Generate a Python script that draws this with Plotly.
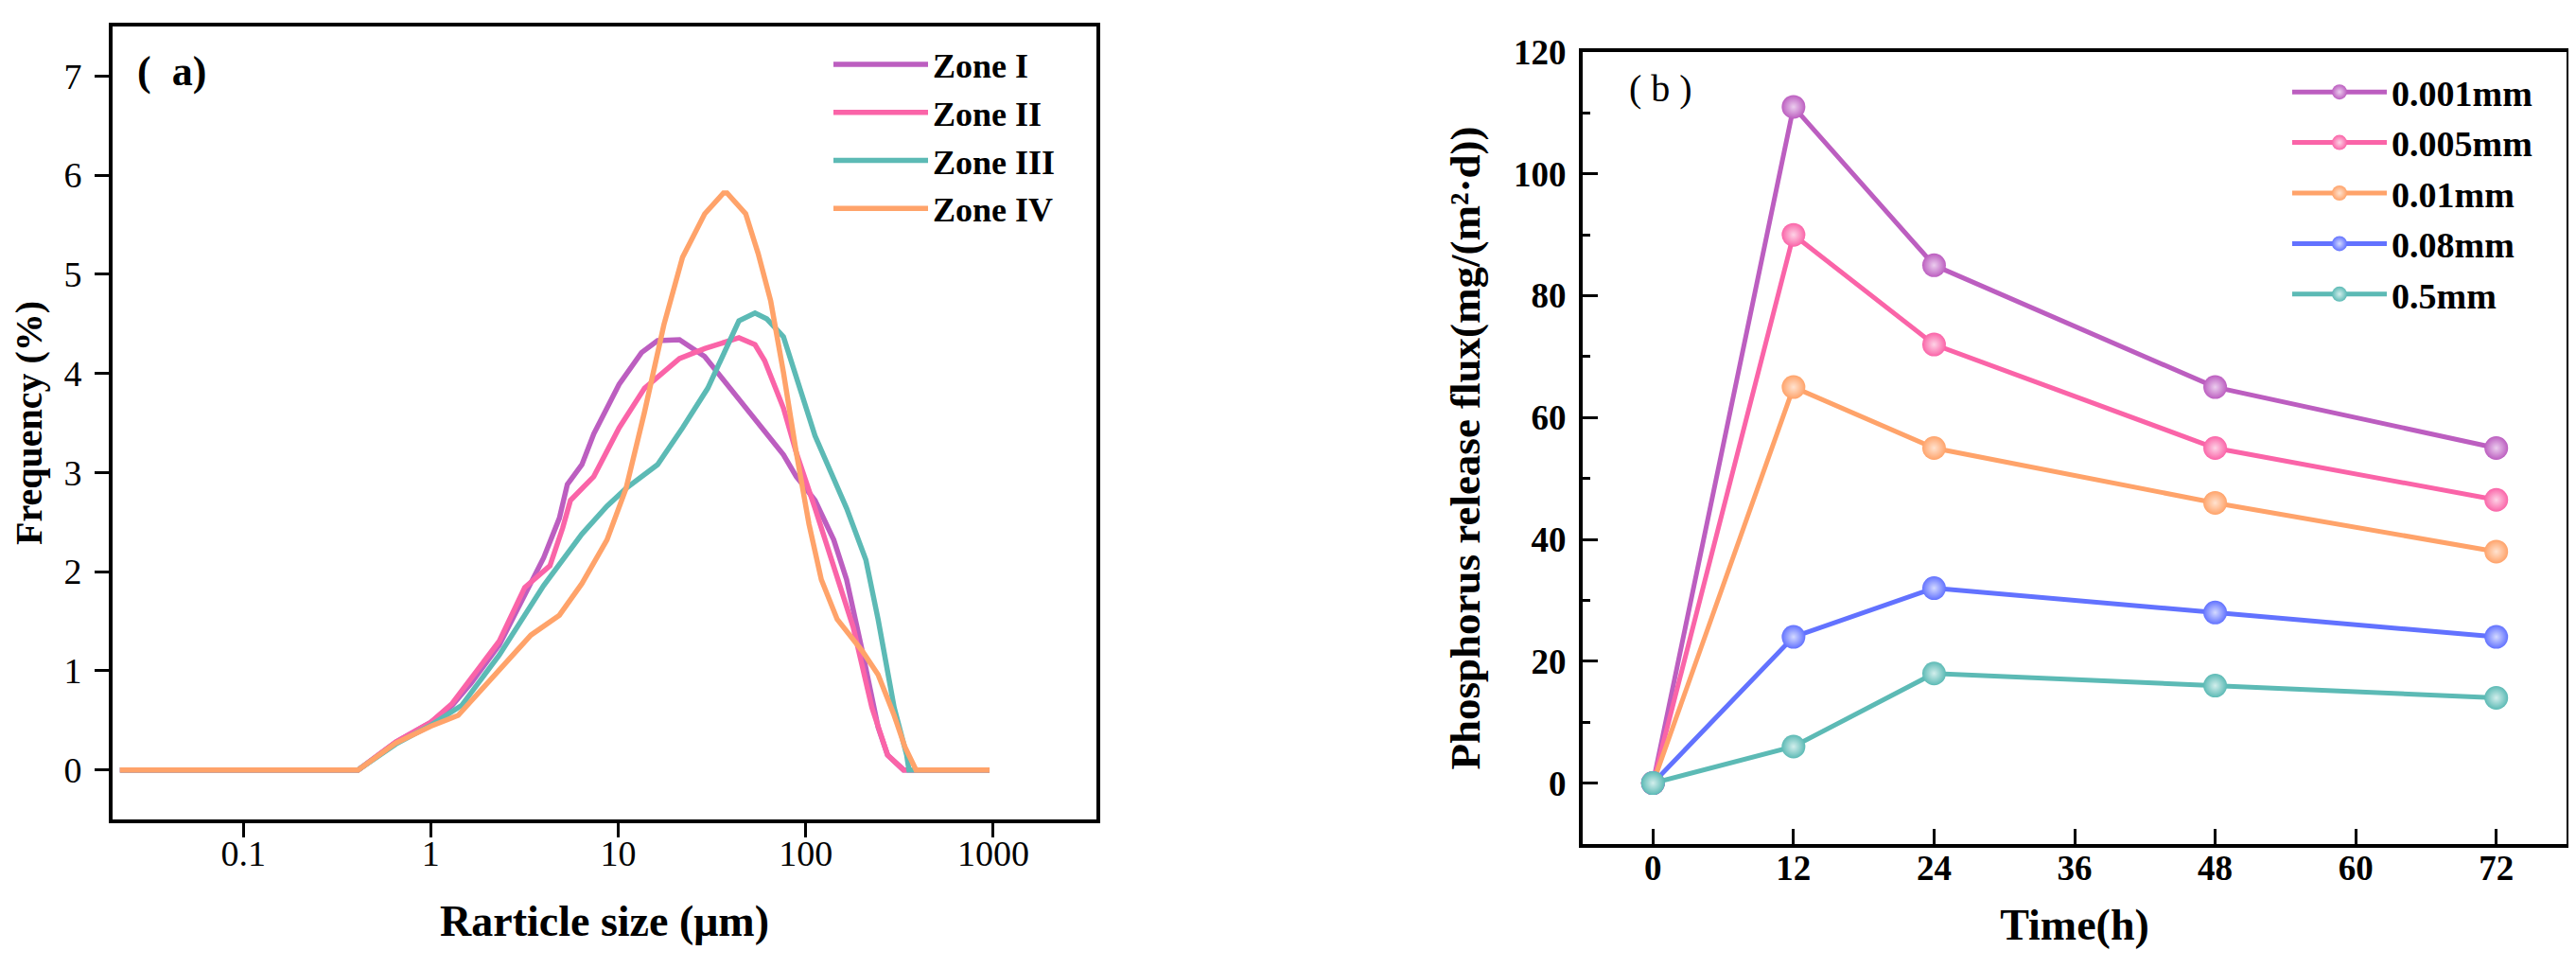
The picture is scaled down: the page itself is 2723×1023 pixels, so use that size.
import plotly.graph_objects as go

# ---- (a) particle size distribution, per zone ---------------------------
zone1_size = [0.022, 0.41, 0.65, 1.0, 1.3, 1.64, 2.32, 3.42, 4.0, 4.85, 5.35, 6.4, 7.4, 10.1,
              13.3, 16.2, 21.2, 28.9, 42.5, 76, 89, 112, 141, 165, 200, 243, 273, 332, 955]
zone1_freq = [0, 0, 0.28, 0.48, 0.65, 0.875, 1.26, 1.88, 2.14, 2.54, 2.88, 3.08, 3.39, 3.89,
              4.21, 4.33, 4.34, 4.17, 3.77, 3.18, 2.96, 2.72, 2.32, 1.92, 1.2, 0.43, 0.15, 0, 0]

zone2_size = [0.022, 0.41, 0.65, 1.0, 1.3, 2.32, 3.17, 4.32, 5.05, 5.56, 7.4, 10.1, 13.8, 21.2,
              28.9, 44, 53.6, 60.3, 76, 89, 112, 141, 179, 225, 273, 332, 955]
zone2_freq = [0, 0, 0.28, 0.48, 0.67, 1.3, 1.84, 2.06, 2.44, 2.72, 2.96, 3.45, 3.85, 4.15,
              4.25, 4.36, 4.29, 4.13, 3.65, 3.2, 2.64, 2.04, 1.44, 0.63, 0.15, 0, 0]

zone3_size = [0.022, 0.41, 0.65, 1.0, 1.46, 2.32, 4.0, 5.05, 6.4, 8.7, 11, 16.2, 22, 30, 44,
              53.6, 62, 76, 112, 165, 209, 243, 296, 345, 355, 955]
zone3_freq = [0, 0, 0.26, 0.45, 0.65, 1.16, 1.86, 2.12, 2.38, 2.66, 2.84, 3.08, 3.45, 3.85, 4.53,
              4.61, 4.55, 4.37, 3.37, 2.64, 2.12, 1.52, 0.63, 0.15, 0, 0]

zone4_size = [0.022, 0.41, 0.65, 1.0, 1.4, 2.32, 3.42, 4.85, 6.4, 8.7, 11, 13.8, 17.5, 22, 28.9,
              36.4, 38, 47.8, 55.7, 65, 76, 89, 104, 121, 147, 200, 243, 296, 338, 387, 955]
zone4_freq = [0, 0, 0.27, 0.44, 0.55, 1.0, 1.36, 1.56, 1.88, 2.32, 2.84, 3.61, 4.49, 5.17, 5.61,
              5.82, 5.82, 5.61, 5.21, 4.73, 4.01, 3.2, 2.48, 1.92, 1.52, 1.2, 0.96, 0.55, 0.23, 0, 0]

zone_names = ["Zone I", "Zone II", "Zone III", "Zone IV"]
zone_colors = ["#BC5EC0", "#FA64A8", "#5CBAB5", "#FFA36A"]

# ---- (b) phosphorus release flux -----------------------------------------
time_h = [0, 12, 24, 48, 72]
flux_0001 = [0, 111, 85, 65, 55]
flux_0005 = [0, 90, 72, 55, 46.5]
flux_001 = [0, 65, 55, 46, 38]
flux_008 = [0, 24, 32, 28, 24]
flux_05 = [0, 6, 18, 16, 14]
size_names = ["0.001mm", "0.005mm", "0.01mm", "0.08mm", "0.5mm"]
size_colors = ["#BC5EC0", "#FA64A8", "#FFA36A", "#6272FF", "#5CBAB5"]
size_tints = ["#EBCDEE", "#FDD3E6", "#FFE2CF", "#D3D9FF", "#D2EEEC"]

FONT = "Liberation Serif"
W, H = 2723, 1023

fig = go.Figure()

zone_sizes = [zone1_size, zone2_size, zone3_size, zone4_size]
zone_freqs = [zone1_freq, zone2_freq, zone3_freq, zone4_freq]
for i, name in enumerate(zone_names):
    fig.add_trace(go.Scatter(
        x=zone_sizes[i], y=zone_freqs[i], mode="lines", name=name,
        line=dict(color=zone_colors[i], width=5.5),
        xaxis="x", yaxis="y", legend="legend", legendgroup=name))

fluxes = [flux_0001, flux_0005, flux_001, flux_008, flux_05]
for i, name in enumerate(size_names):
    fig.add_trace(go.Scatter(
        x=time_h, y=fluxes[i], mode="lines+markers", name=name,
        line=dict(color=size_colors[i], width=5),
        marker=dict(size=25, color=size_colors[i], line=dict(width=0),
                    gradient=dict(type="radial", color=size_tints[i])),
        xaxis="x2", yaxis="y2", legend="legend2", legendgroup=name))

# panel (a) axes
fig.update_layout(
    xaxis=dict(domain=[111 / W, 1151 / W], type="log", range=[-1.697, 3.55],
               tickvals=[0.1, 1, 10, 100, 1000], ticktext=["0.1", "1", "10", "100", "1000"],
               ticks="outside", ticklen=15, tickwidth=3, tickcolor="black",
               showline=True, linewidth=4, linecolor="black", mirror=True,
               showgrid=False, zeroline=False, ticklabelstandoff=-16,
               tickfont=dict(family=FONT, size=38, color="black"),
               title=dict(text="<b>Rarticle size (μm)</b>", standoff=36,
                          font=dict(family=FONT, size=46, color="black")),
               anchor="y", automargin=False),
    yaxis=dict(domain=[1 - 858 / H, 1 - 20 / H], range=[-0.5, 7.5], dtick=1,
               ticks="outside", ticklen=15, tickwidth=3, tickcolor="black",
               showline=True, linewidth=4, linecolor="black", mirror=True,
               showgrid=False, zeroline=False, ticklabelstandoff=6,
               tickfont=dict(family=FONT, size=38, color="black"),
               title=dict(text="<b>Frequency (%)</b>", standoff=22,
                          font=dict(family=FONT, size=40, color="black")),
               anchor="x", automargin=False),
)

# panel (b) axes
fig.update_layout(
    xaxis2=dict(domain=[1665 / W, 2705 / W], range=[-6, 78], tickvals=time_h + [36, 60],
                ticks="inside", ticklen=16, tickwidth=3, tickcolor="black",
                showline=True, linewidth=4, linecolor="black", mirror=True,
                showgrid=False, zeroline=False, ticklabelstandoff=-10,
                tickfont=dict(family=FONT, size=37, color="black", weight="bold"),
                title=dict(text="<b>Time(h)</b>", standoff=24,
                           font=dict(family=FONT, size=46, color="black")),
                anchor="y2", automargin=False),
    yaxis2=dict(domain=[1 - 884 / H, 1 - 47 / H], range=[-10, 120], dtick=20,
                ticks="inside", ticklen=16, tickwidth=3, tickcolor="black",
                minor=dict(ticks="inside", ticklen=8, tickwidth=3, dtick=10, tickcolor="black"),
                showline=True, linewidth=4, linecolor="black", mirror=True,
                showgrid=False, zeroline=False, ticklabelstandoff=6,
                tickfont=dict(family=FONT, size=37, color="black", weight="bold"),
                title=dict(text="<b>Phosphorus release flux(mg/(m²·d))</b>", standoff=22,
                           font=dict(family=FONT, size=45, color="black")),
                anchor="x2", automargin=False),
)

fig.update_layout(
    width=W, height=H,
    margin=dict(l=0, r=0, t=0, b=0),
    paper_bgcolor="white", plot_bgcolor="white",
    font=dict(family=FONT, color="black"),
    legend=dict(x=868 / W, y=1 - 30 / H, xanchor="left", yanchor="top",
                bgcolor="rgba(0,0,0,0)", tracegroupgap=1, itemwidth=100,
                font=dict(family=FONT, size=36, color="black", weight="bold")),
    legend2=dict(x=2410 / W, y=1 - 58 / H, xanchor="left", yanchor="top",
                 bgcolor="rgba(0,0,0,0)", tracegroupgap=1, itemwidth=100,
                 font=dict(family=FONT, size=38, color="black", weight="bold")),
    annotations=[
        dict(text="<b>(  a)</b>", x=135 / W, y=1 - 68 / H, xref="paper", yref="paper",
             xanchor="left", yanchor="middle", showarrow=False,
             font=dict(family=FONT, size=44, color="black")),
        dict(text="( b )", x=1712 / W, y=1 - 85 / H, xref="paper", yref="paper",
             xanchor="left", yanchor="middle", showarrow=False,
             font=dict(family=FONT, size=40, color="black")),
    ],
)

fig.write_html("out.html")
